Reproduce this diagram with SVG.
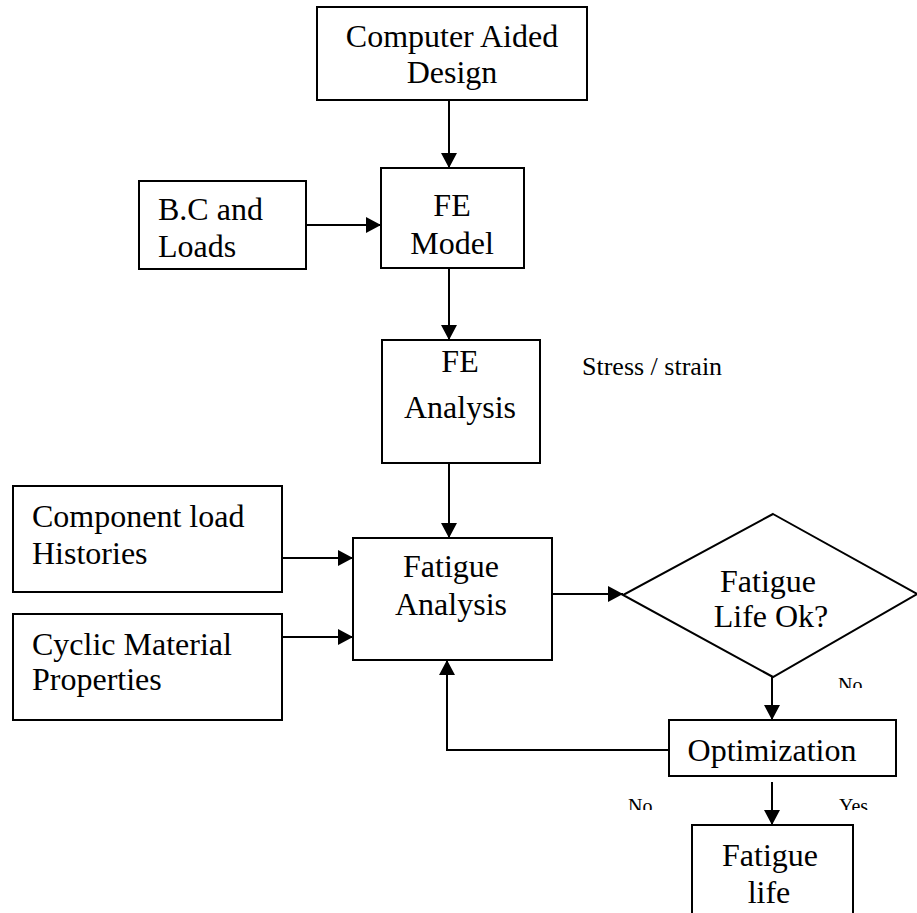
<svg xmlns="http://www.w3.org/2000/svg" width="917" height="913" viewBox="0 0 917 913">
  <style>
    .box { fill: #ffffff; stroke: #000000; stroke-width: 2; }
    .lbl { font-family: "Liberation Serif", "Times New Roman", serif; font-size: 32px; fill: #000000; }
    .mid { text-anchor: middle; }
    .small { font-family: "Liberation Serif", "Times New Roman", serif; font-size: 26px; fill: #000000; }
    .tag { font-family: "Liberation Serif", "Times New Roman", serif; font-size: 20px; fill: #000000; }
    .edge { fill: none; stroke: #000000; stroke-width: 2; marker-end: url(#arrow); }
  </style>
  <defs>
    <marker id="arrow" markerUnits="userSpaceOnUse" markerWidth="15" markerHeight="16" refX="15" refY="8" orient="auto">
      <path d="M0,0 L15,8 L0,16 Z" fill="#000000"/>
    </marker>
    <clipPath id="clipNo1"><rect x="820" y="670" width="60" height="18"/></clipPath>
    <clipPath id="clipNo2"><rect x="610" y="795" width="60" height="15"/></clipPath>
    <clipPath id="clipYes"><rect x="825" y="795" width="60" height="15"/></clipPath>
  </defs>
  <rect width="917" height="913" fill="#ffffff"/>

  <!-- connectors -->
  <g id="connectors">
    <path class="edge" d="M449,100 V168"/>
    <path class="edge" d="M306,225 H381"/>
    <path class="edge" d="M449,268 V340"/>
    <path class="edge" d="M449,463 V538"/>
    <path class="edge" d="M282,558 H353"/>
    <path class="edge" d="M282,637 H353"/>
    <path class="edge" d="M552,594 H623"/>
    <path class="edge" d="M772,677 V720"/>
    <path class="edge" d="M669,750 H447 V660"/>
    <path class="edge" d="M772,782 V825"/>
  </g>

  <g id="cad">
    <rect class="box" x="317" y="7" width="270" height="93"/>
    <text class="lbl mid" x="452" y="47">Computer Aided</text>
    <text class="lbl mid" x="452" y="83">Design</text>
  </g>

  <g id="bc-loads">
    <rect class="box" x="139" y="181" width="167" height="88"/>
    <text class="lbl" x="158" y="220">B.C and</text>
    <text class="lbl" x="158" y="257">Loads</text>
  </g>

  <g id="fe-model">
    <rect class="box" x="381" y="168" width="143" height="100"/>
    <text class="lbl mid" x="452" y="216">FE</text>
    <text class="lbl mid" x="452" y="254">Model</text>
  </g>

  <g id="fe-analysis">
    <rect class="box" x="382" y="340" width="158" height="123"/>
    <text class="lbl mid" x="460" y="372">FE</text>
    <text class="lbl mid" x="460" y="418">Analysis</text>
  </g>

  <g id="stress-strain">
    <text class="small" x="582" y="375">Stress / strain</text>
  </g>

  <g id="load-histories">
    <rect class="box" x="13" y="486" width="269" height="106"/>
    <text class="lbl" x="32" y="527">Component load</text>
    <text class="lbl" x="32" y="564">Histories</text>
  </g>

  <g id="material">
    <rect class="box" x="13" y="614" width="269" height="106"/>
    <text class="lbl" x="32" y="655">Cyclic Material</text>
    <text class="lbl" x="32" y="690">Properties</text>
  </g>

  <g id="fatigue-analysis">
    <rect class="box" x="353" y="538" width="199" height="122"/>
    <text class="lbl mid" x="451" y="577">Fatigue</text>
    <text class="lbl mid" x="451" y="615">Analysis</text>
  </g>

  <g id="life-check">
    <polygon class="box" points="773,514 917,594 773,677 623,595"/>
    <text class="lbl mid" x="768" y="592">Fatigue</text>
    <text class="lbl mid" x="771" y="627">Life Ok?</text>
  </g>

  <g id="branch-labels">
    <text class="tag" x="838" y="692" clip-path="url(#clipNo1)">No</text>
    <text class="tag" x="628" y="813" clip-path="url(#clipNo2)">No</text>
    <text class="tag" x="839" y="813" clip-path="url(#clipYes)">Yes</text>
  </g>

  <g id="optimization">
    <rect class="box" x="669" y="720" width="227" height="56"/>
    <text class="lbl mid" x="772" y="761">Optimization</text>
  </g>

  <g id="fatigue-life">
    <rect class="box" x="692" y="825" width="161" height="110"/>
    <text class="lbl mid" x="770" y="866">Fatigue</text>
    <text class="lbl mid" x="769" y="903">life</text>
  </g>
</svg>
